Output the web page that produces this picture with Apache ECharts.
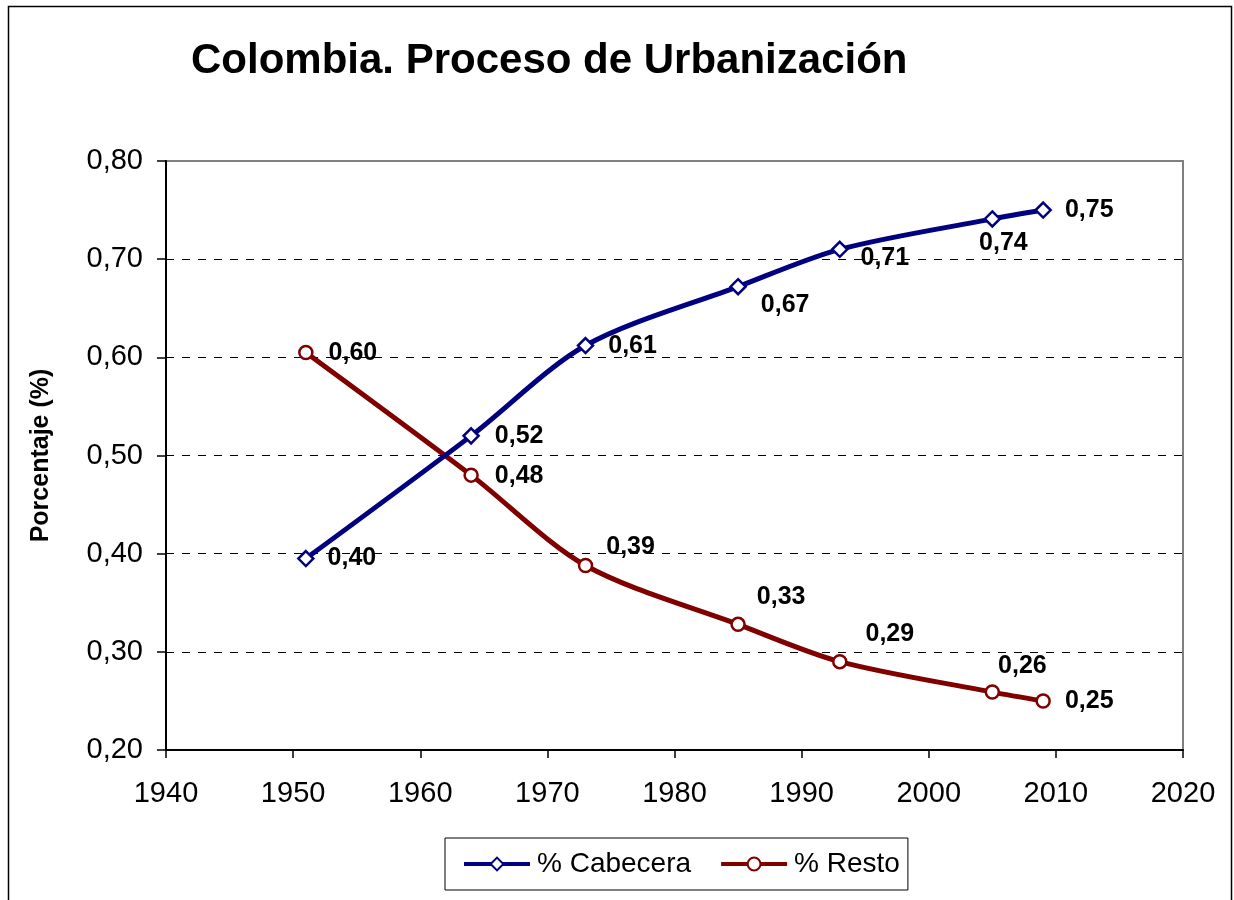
<!DOCTYPE html>
<html>
<head>
<meta charset="utf-8">
<script src="https://cdn.jsdelivr.net/npm/echarts@6/dist/echarts.min.js"></script>
<style>html,body{margin:0;padding:0;background:#fff}#c{width:1234px;height:900px}</style>
</head>
<body>
<div id="c"></div>
<script>
var years = [1951, 1964, 1973, 1985, 1993, 2005, 2009];
var cabecera = [0.395, 0.520, 0.612, 0.672, 0.710, 0.741, 0.750];
var resto = [0.605, 0.480, 0.388, 0.328, 0.290, 0.259, 0.250];
var xTicks = [1940, 1950, 1960, 1970, 1980, 1990, 2000, 2010, 2020];
var yTicks = [0.20, 0.30, 0.40, 0.50, 0.60, 0.70, 0.80];
var seriesNames = ['% Cabecera', '% Resto'];
var titleText = 'Colombia. Proceso de Urbanización';
var yAxisName = 'Porcentaje (%)';

// label offsets (layout only)
var cabOffsets = [[13,0],[15,0],[14,1],[14,18],[12,9],[-22,24],[13,0]];
var resOffsets = [[15,1],[16,1],[13,-18],[11,-27],[18,-28],[-2,-26],[14,0]];

function fmt(v){ return v.toFixed(2).replace('.', ','); }

function buildData(vals, offs){
  return years.map(function(y,i){
    return {value:[y, vals[i]], label:{offset:offs[i]}};
  });
}

var FONT = 'Liberation Sans, Arial, sans-serif';
var chart = echarts.init(document.getElementById('c'), null, {renderer:'canvas'});
var labelStyle = {
  show:true, position:'right', distance:0,
  fontFamily:FONT, fontWeight:'bold', fontSize:25, color:'#000',
  formatter:function(p){ return fmt(p.value[1]); }
};
chart.setOption({
  backgroundColor:'#fff',
  animation:false,
  title:{
    text:titleText, left:186, top:35,
    textStyle:{fontFamily:FONT, fontWeight:'bold', fontSize:42, color:'#000'}
  },
  graphic:[{
    type:'rect', shape:{x:8.5, y:6.5, width:1223, height:900},
    style:{fill:'none', stroke:'#000', lineWidth:1.5}, silent:true, z:-1
  }],
  legend:{
    data:seriesNames, left:445, top:838,
    orient:'horizontal',
    padding:[12,8,12,17], itemGap:28, itemWidth:66, itemHeight:16,
    borderColor:'#000', borderWidth:1,
    lineStyle:{width:4},
    textStyle:{fontFamily:FONT, fontSize:28, color:'#000', padding:[0,0,0,2]}
  },
  grid:{left:166, right:51, top:161, bottom:150, show:true, borderColor:'#808080', borderWidth:2, backgroundColor:'#fff'},
  xAxis:{
    type:'value', min:xTicks[0], max:xTicks[xTicks.length-1], interval:10,
    axisLine:{show:true, onZero:false, lineStyle:{color:'#000', width:2}},
    axisTick:{show:true, length:8, lineStyle:{color:'#000', width:1.5}},
    axisLabel:{fontFamily:FONT, fontSize:29, color:'#000', margin:29,
      formatter:function(v){ return String(v); }},
    splitLine:{show:false}
  },
  yAxis:{
    type:'value', min:yTicks[0], max:yTicks[yTicks.length-1], interval:0.1,
    name:yAxisName, nameLocation:'middle', nameGap:112,
    nameTextStyle:{fontFamily:FONT, fontWeight:'bold', fontSize:25, color:'#000'},
    axisLine:{show:true, onZero:false, lineStyle:{color:'#000', width:2}},
    axisTick:{show:true, length:9, lineStyle:{color:'#000', width:1.5}},
    axisLabel:{fontFamily:FONT, fontSize:29, color:'#000', margin:23,
      formatter:function(v){ return fmt(v); }},
    splitLine:{show:true, showMinLine:false, showMaxLine:false, lineStyle:{color:'#000', type:[8,8], width:1}}
  },
  series:[
    {
      name:seriesNames[0], type:'line', smooth:0.3,
      data:buildData(cabecera, cabOffsets),
      symbol:'diamond', symbolSize:15,
      lineStyle:{color:'#000080', width:5},
      itemStyle:{color:'#fff', borderColor:'#000080', borderWidth:2.5},
      label:labelStyle, z:3
    },
    {
      name:seriesNames[1], type:'line', smooth:0.3,
      data:buildData(resto, resOffsets),
      symbol:'circle', symbolSize:13,
      lineStyle:{color:'#800000', width:5},
      itemStyle:{color:'#fff', borderColor:'#800000', borderWidth:2.5},
      label:labelStyle, z:2
    }
  ]
});
</script>
</body>
</html>
